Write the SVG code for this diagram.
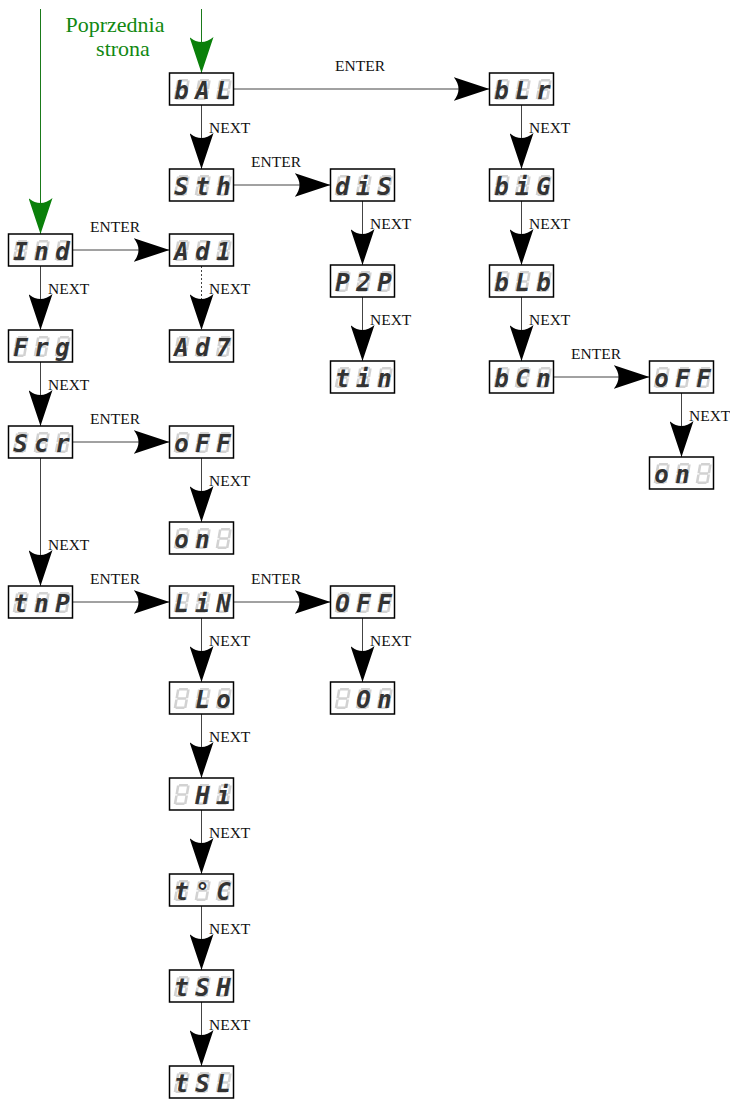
<svg xmlns="http://www.w3.org/2000/svg" xmlns:xlink="http://www.w3.org/1999/xlink" width="730" height="1099" viewBox="0 0 730 1099">
<style>
.box{fill:#fff;stroke:#000;stroke-width:1.5}
.seg{fill:#d2d2d2}
.lcd{font-family:"DejaVu Sans Mono",monospace;font-weight:bold;font-style:oblique;font-size:24px;fill:#333;text-anchor:middle}
.c{fill:none;stroke:#444;stroke-width:1}
.dot{stroke-dasharray:2 2}
.g{fill:none;stroke:#1a7a1a;stroke-width:1}
.lbl{font-family:"Liberation Serif",serif;font-size:15.5px;fill:#111}
.gt{font-family:"Liberation Serif",serif;font-size:22px;fill:#118811;text-anchor:middle}
.mid{text-anchor:middle}
</style>
<defs>
<marker id="ah" viewBox="0 0 36 24" refX="36" refY="12" markerWidth="36" markerHeight="24" markerUnits="userSpaceOnUse" orient="auto">
<path d="M36,12 L0,0 Q10,12 0,24 Z" fill="#000"/>
</marker>
<marker id="ahg" viewBox="0 0 36 24" refX="36" refY="12" markerWidth="36" markerHeight="24" markerUnits="userSpaceOnUse" orient="auto">
<path d="M36,12 L0,0 Q10,12 0,24 Z" fill="#0a800a"/>
</marker>
<g id="d8" class="seg">
<g transform="skewX(-10)">
<rect x="2" y="-21" width="8.8" height="2.6"/>
<rect x="0" y="-19.4" width="2.6" height="8.6"/>
<rect x="10.2" y="-19.4" width="2.6" height="8.6"/>
<rect x="2" y="-11.8" width="8.8" height="2.6"/>
<rect x="0" y="-9.6" width="2.6" height="8.6"/>
<rect x="10.2" y="-9.6" width="2.6" height="8.6"/>
<rect x="2" y="-2.6" width="8.8" height="2.6"/>
</g>
</g>
<g id="disp">
<rect class="box" width="64" height="32"/>
<use xlink:href="#d8" x="4" y="27"/>
<use xlink:href="#d8" x="25" y="27"/>
<use xlink:href="#d8" x="46" y="27"/>
</g>
</defs>

<g id="connectors">
<path class="g" d="M40.5,9 V234" marker-end="url(#ahg)"/>
<path class="g" d="M201.5,9 V73" marker-end="url(#ahg)"/>
<path class="c" d="M233.5,89 H489.5" marker-end="url(#ah)"/>
<path class="c" d="M233.5,185 H330.5" marker-end="url(#ah)"/>
<path class="c" d="M72.5,250 H169.5" marker-end="url(#ah)"/>
<path class="c" d="M72.5,442 H169.5" marker-end="url(#ah)"/>
<path class="c" d="M72.5,602 H169.5" marker-end="url(#ah)"/>
<path class="c" d="M233.5,602 H330.5" marker-end="url(#ah)"/>
<path class="c" d="M553.5,377 H649.5" marker-end="url(#ah)"/>
<path class="c" d="M40.5,266 V330" marker-end="url(#ah)"/>
<path class="c" d="M40.5,362 V426" marker-end="url(#ah)"/>
<path class="c" d="M40.5,458 V586" marker-end="url(#ah)"/>
<path class="c" d="M201.5,105 V169" marker-end="url(#ah)"/>
<path class="c dot" d="M201.5,266 V330" marker-end="url(#ah)"/>
<path class="c" d="M201.5,458 V522" marker-end="url(#ah)"/>
<path class="c" d="M201.5,618 V682" marker-end="url(#ah)"/>
<path class="c" d="M201.5,714 V778" marker-end="url(#ah)"/>
<path class="c" d="M201.5,810 V874" marker-end="url(#ah)"/>
<path class="c" d="M201.5,906 V970" marker-end="url(#ah)"/>
<path class="c" d="M201.5,1002 V1066" marker-end="url(#ah)"/>
<path class="c" d="M362.5,201 V265" marker-end="url(#ah)"/>
<path class="c" d="M362.5,297 V361" marker-end="url(#ah)"/>
<path class="c" d="M362.5,618 V682" marker-end="url(#ah)"/>
<path class="c" d="M521.5,105 V169" marker-end="url(#ah)"/>
<path class="c" d="M521.5,201 V265" marker-end="url(#ah)"/>
<path class="c" d="M521.5,297 V361" marker-end="url(#ah)"/>
<path class="c" d="M681.5,393 V457" marker-end="url(#ah)"/>
</g>

<g id="labels">
<text class="gt" x="115" y="32">Poprzednia</text>
<text class="gt" x="123" y="56">strona</text>
<text class="lbl mid" x="360" y="71">ENTER</text>
<text class="lbl mid" x="276" y="167">ENTER</text>
<text class="lbl mid" x="115" y="232">ENTER</text>
<text class="lbl mid" x="115" y="424">ENTER</text>
<text class="lbl mid" x="115" y="584">ENTER</text>
<text class="lbl mid" x="276" y="584">ENTER</text>
<text class="lbl mid" x="596" y="359">ENTER</text>
<text class="lbl" x="48" y="294">NEXT</text>
<text class="lbl" x="48" y="390">NEXT</text>
<text class="lbl" x="48" y="550">NEXT</text>
<text class="lbl" x="209" y="133">NEXT</text>
<text class="lbl" x="209" y="294">NEXT</text>
<text class="lbl" x="209" y="486">NEXT</text>
<text class="lbl" x="209" y="646">NEXT</text>
<text class="lbl" x="209" y="742">NEXT</text>
<text class="lbl" x="209" y="838">NEXT</text>
<text class="lbl" x="209" y="934">NEXT</text>
<text class="lbl" x="209" y="1030">NEXT</text>
<text class="lbl" x="370" y="229">NEXT</text>
<text class="lbl" x="370" y="325">NEXT</text>
<text class="lbl" x="370" y="646">NEXT</text>
<text class="lbl" x="529" y="133">NEXT</text>
<text class="lbl" x="529" y="229">NEXT</text>
<text class="lbl" x="529" y="325">NEXT</text>
<text class="lbl" x="689" y="421">NEXT</text>
</g>

<g id="n-bAL" transform="translate(169.5,73)"><use xlink:href="#disp"/><text class="lcd" x="12 33 54" y="26">bAL</text></g>
<g id="n-Sth" transform="translate(169.5,169)"><use xlink:href="#disp"/><text class="lcd" x="12 33 54" y="26">Sth</text></g>
<g id="n-dIS" transform="translate(330.5,169)"><use xlink:href="#disp"/><text class="lcd" x="12 33 54" y="26">diS</text></g>
<g id="n-bLr" transform="translate(489.5,73)"><use xlink:href="#disp"/><text class="lcd" x="12 33 54" y="26">bLr</text></g>
<g id="n-bIG" transform="translate(489.5,169)"><use xlink:href="#disp"/><text class="lcd" x="12 33 54" y="26">biG</text></g>
<g id="n-bLb" transform="translate(489.5,265)"><use xlink:href="#disp"/><text class="lcd" x="12 33 54" y="26">bLb</text></g>
<g id="n-bCn" transform="translate(489.5,361)"><use xlink:href="#disp"/><text class="lcd" x="12 33 54" y="26">bCn</text></g>
<g id="n-oFF-b" transform="translate(649.5,361)"><use xlink:href="#disp"/><text class="lcd" x="12 33 54" y="26">oFF</text></g>
<g id="n-on-b" transform="translate(649.5,457)"><use xlink:href="#disp"/><text class="lcd" x="12 33" y="26">on</text></g>
<g id="n-Ind" transform="translate(8.5,234)"><use xlink:href="#disp"/><text class="lcd" x="12 33 54" y="26">Ind</text></g>
<g id="n-Ad1" transform="translate(169.5,234)"><use xlink:href="#disp"/><text class="lcd" x="12 33 54" y="26">Ad1</text></g>
<g id="n-Ad7" transform="translate(169.5,330)"><use xlink:href="#disp"/><text class="lcd" x="12 33 54" y="26">Ad7</text></g>
<g id="n-P2P" transform="translate(330.5,265)"><use xlink:href="#disp"/><text class="lcd" x="12 33 54" y="26">P2P</text></g>
<g id="n-tIn" transform="translate(330.5,361)"><use xlink:href="#disp"/><text class="lcd" x="12 33 54" y="26">tin</text></g>
<g id="n-Frg" transform="translate(8.5,330)"><use xlink:href="#disp"/><text class="lcd" x="12 33 54" y="26">Frg</text></g>
<g id="n-Scr" transform="translate(8.5,426)"><use xlink:href="#disp"/><text class="lcd" x="12 33 54" y="26">Scr</text></g>
<g id="n-oFF-s" transform="translate(169.5,426)"><use xlink:href="#disp"/><text class="lcd" x="12 33 54" y="26">oFF</text></g>
<g id="n-on-s" transform="translate(169.5,522)"><use xlink:href="#disp"/><text class="lcd" x="12 33" y="26">on</text></g>
<g id="n-tnP" transform="translate(8.5,586)"><use xlink:href="#disp"/><text class="lcd" x="12 33 54" y="26">tnP</text></g>
<g id="n-LIn" transform="translate(169.5,586)"><use xlink:href="#disp"/><text class="lcd" x="12 33 54" y="26">LiN</text></g>
<g id="n-OFF" transform="translate(330.5,586)"><use xlink:href="#disp"/><text class="lcd" x="12 33 54" y="26">OFF</text></g>
<g id="n-On" transform="translate(330.5,682)"><use xlink:href="#disp"/><text class="lcd" x="33 54" y="26">On</text></g>
<g id="n-Lo" transform="translate(169.5,682)"><use xlink:href="#disp"/><text class="lcd" x="33 54" y="26">Lo</text></g>
<g id="n-HI" transform="translate(169.5,778)"><use xlink:href="#disp"/><text class="lcd" x="33 54" y="26">Hi</text></g>
<g id="n-toC" transform="translate(169.5,874)"><use xlink:href="#disp"/><text class="lcd" x="12 33 54" y="26">t°C</text></g>
<g id="n-tSH" transform="translate(169.5,970)"><use xlink:href="#disp"/><text class="lcd" x="12 33 54" y="26">tSH</text></g>
<g id="n-tSL" transform="translate(169.5,1066)"><use xlink:href="#disp"/><text class="lcd" x="12 33 54" y="26">tSL</text></g>
</svg>
